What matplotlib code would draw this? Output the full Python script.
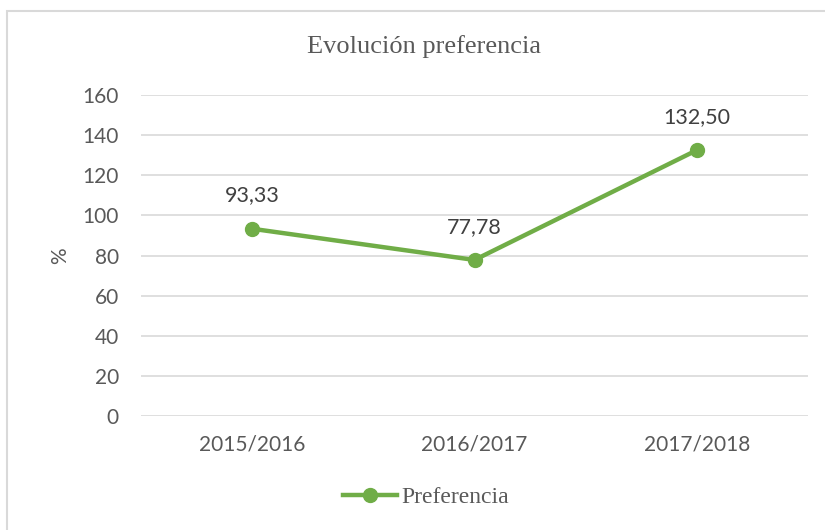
import matplotlib.pyplot as plt
from matplotlib.patches import Rectangle

categories = ["2015/2016", "2016/2017", "2017/2018"]
preferencia = [93.33, 77.78, 132.50]
labels = ["93,33", "77,78", "132,50"]

green = "#70AD47"
grey = "#595959"
W, H = 825, 530

fig = plt.figure(figsize=(W / 100, H / 100), dpi=100)
ax = fig.add_axes([141 / W, 1 - 416 / H, (808 - 141) / W, (416 - 95) / H])

# chart border (cut off at right/bottom like the screenshot)
fig.patches.append(Rectangle((7 / W, -0.05), 1.0, 1 - 11 / H + 0.05,
                             transform=fig.transFigure, fill=False,
                             edgecolor="#D9D9D9", linewidth=1.5))

x = range(len(categories))
ax.plot(x, preferencia, color=green, linewidth=3.2, marker="o", markersize=10,
        label="Preferencia")
for xi, yi, lab in zip(x, preferencia, labels):
    ax.annotate(lab, (xi, yi), xytext=(0, 24), textcoords="offset points",
                ha="center", va="center", fontsize=15.5, color="#404040",
                family="Lato")

ax.set_xlim(-0.5, 2.5)
ax.set_ylim(0, 160)
ax.set_yticks(range(0, 161, 20))
ax.set_xticks(list(x))
ax.set_xticklabels(categories)
ax.grid(axis="y", color="#D9D9D9", linewidth=1.2)
ax.set_axisbelow(True)
for s in ax.spines.values():
    s.set_visible(False)
ax.tick_params(length=0, labelsize=15, labelcolor=grey)
for t in ax.get_xticklabels() + ax.get_yticklabels():
    t.set_family("Lato")
ax.tick_params(axis="x", pad=13)
ax.tick_params(axis="y", pad=16)

fig.text(60 / W, 1 - 256 / H, "%", rotation=90, ha="center", va="center",
         fontsize=15, color=grey, family="Lato")
fig.text(424 / W, 1 - 47 / H, "Evolución preferencia", ha="center", va="center",
         fontsize=19, color=grey, family="Liberation Serif")

fig.legend(loc="center", bbox_to_anchor=(426 / W, 1 - 497 / H), frameon=False,
           prop={"family": "Liberation Serif", "size": 17}, labelcolor=grey,
           handlelength=2.3, handletextpad=0.2)

fig.savefig("out.png", dpi=100)
